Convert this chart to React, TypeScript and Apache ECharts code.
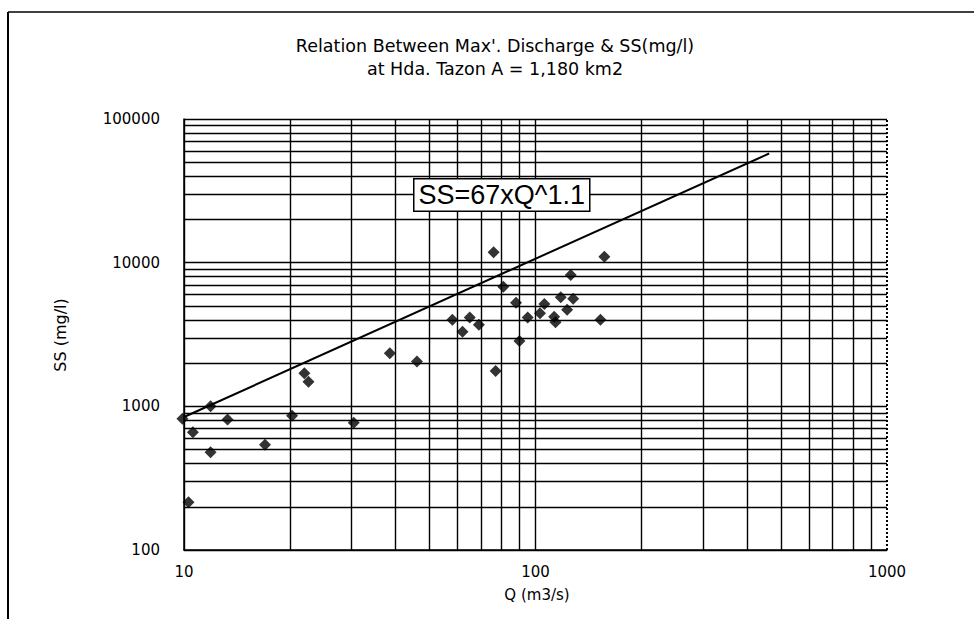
import React, { useEffect, useRef } from "react";
import * as echarts from "echarts";

const titleLines = ["Relation Between Max'. Discharge & SS(mg/l)", "at Hda. Tazon A = 1,180 km2"];
const xAxisName = "Q (m3/s)";
const yAxisName = "SS (mg/l)";
const xMajorTicks = [10, 100];
const yMajorTicks = [100, 1000, 10000, 100000];
const xMinorTicks = [20, 30, 40, 50, 60, 70, 80, 90, 200, 300, 400, 500, 600, 700, 800, 900];
const yMinorTicks = [
  200, 300, 400, 500, 600, 700, 800, 900,
  2000, 3000, 4000, 5000, 6000, 7000, 8000, 9000,
  20000, 30000, 40000, 50000, 60000, 70000, 80000, 90000,
];
const qValues = [9.9, 10.6, 11.9, 11.9, 13.3, 17.0, 10.3, 20.3, 22.0, 22.6, 30.4, 38.5, 46, 58, 62, 65, 69, 76, 77, 81, 88, 90, 95, 103, 106, 113, 114, 118, 123, 128, 126, 157, 153];
const ssValues = [820, 660, 1000, 480, 810, 540, 215, 860, 1700, 1480, 770, 2340, 2050, 4000, 3300, 4150, 3700, 11800, 1760, 6800, 5250, 2850, 4150, 4450, 5150, 4200, 3850, 5750, 4700, 5600, 8200, 11000, 4000];
const fitQ = [10, 462];
const fitSS = [843, 57500];
const fitLabel = "SS=67xQ^1.1";

export default function App() {
  const ref = useRef<HTMLDivElement>(null);
  useEffect(() => {
    if (!ref.current) return;
    const chart = echarts.init(ref.current, null, { renderer: "svg" });
    const fmt = (v: number) => String(Math.round(v));
    const option: any = {
      animation: false,
      backgroundColor: "#fff",
      grid: { left: 184, right: 87, top: 119, bottom: 69 },
      graphic: [
        { type: "line", shape: { x1: 8, y1: 12, x2: 974, y2: 12 }, style: { stroke: "#000", lineWidth: 1.5 } },
        { type: "line", shape: { x1: 8, y1: 12, x2: 8, y2: 619 }, style: { stroke: "#000", lineWidth: 2 } },
        {
          type: "text", x: 495, y: 46, z: 10,
          style: { text: titleLines[0], font: "17.5px 'DejaVu Sans'", fill: "#000", textAlign: "center", textVerticalAlign: "middle" },
        },
        {
          type: "text", x: 495, y: 69, z: 10,
          style: { text: titleLines[1], font: "17.5px 'DejaVu Sans'", fill: "#000", textAlign: "center", textVerticalAlign: "middle" },
        },
        {
          type: "text", x: 537, y: 595, z: 10,
          style: { text: xAxisName, font: "15px 'DejaVu Sans'", fill: "#000", textAlign: "center", textVerticalAlign: "middle" },
        },
        {
          type: "text", x: 60, y: 335, rotation: Math.PI / 2, z: 10,
          style: { text: yAxisName, font: "16px 'DejaVu Sans'", fill: "#000", textAlign: "center", textVerticalAlign: "middle" },
        },
        {
          type: "text", left: 413, top: 178, z: 20,
          style: {
            text: fitLabel, font: "27px 'Liberation Sans'", fill: "#000",
            backgroundColor: "#fff", borderColor: "#000", borderWidth: 1.5,
            padding: [2, 4, 2, 4],
          },
        },
      ],
      xAxis: {
        type: "log", logBase: 10, min: 10, max: 1000,
        axisLine: { show: true, lineStyle: { color: "#000", width: 1.5 } },
        axisTick: { show: false },
        axisLabel: { fontFamily: "DejaVu Sans", fontSize: 15, color: "#000", margin: 14, formatter: fmt },
        splitLine: { show: false },
      },
      yAxis: {
        type: "log", logBase: 10, min: 100, max: 100000,
        axisLine: { show: true, lineStyle: { color: "#000", width: 1.5 } },
        axisTick: { show: false },
        axisLabel: { fontFamily: "DejaVu Sans", fontSize: 15, color: "#000", margin: 24, formatter: fmt },
        splitLine: { show: false },
      },
      series: [
        {
          type: "scatter",
          data: [],
          silent: true,
          markLine: {
            silent: true,
            symbol: "none",
            label: { show: false },
            lineStyle: { color: "#000", width: 1.4, type: "solid" },
            data: [
              ...xMinorTicks.map((v) => ({ xAxis: v })),
              ...yMinorTicks.map((v) => ({ yAxis: v })),
              ...xMajorTicks.map((v) => ({ xAxis: v })),
              ...yMajorTicks.map((v) => ({ yAxis: v })),
              { xAxis: 1000, lineStyle: { type: "dotted", width: 2 } },
            ],
          },
        },
        {
          type: "line",
          data: fitQ.map((q, i) => [q, fitSS[i]]),
          showSymbol: false,
          lineStyle: { color: "#000", width: 2 },
          z: 5,
        },
        {
          type: "scatter",
          data: qValues.map((q, i) => [q, ssValues[i]]),
          symbol: "diamond",
          symbolSize: 12,
          clip: false,
          itemStyle: { color: "#000" },
          z: 6,
        },
      ],
    };
    chart.setOption(option);
    return () => chart.dispose();
  }, []);
  return (
    <div
      ref={ref}
      style={{ position: "fixed", left: 0, top: 0, width: 974, height: 619, background: "#fff" }}
    />
  );
}
